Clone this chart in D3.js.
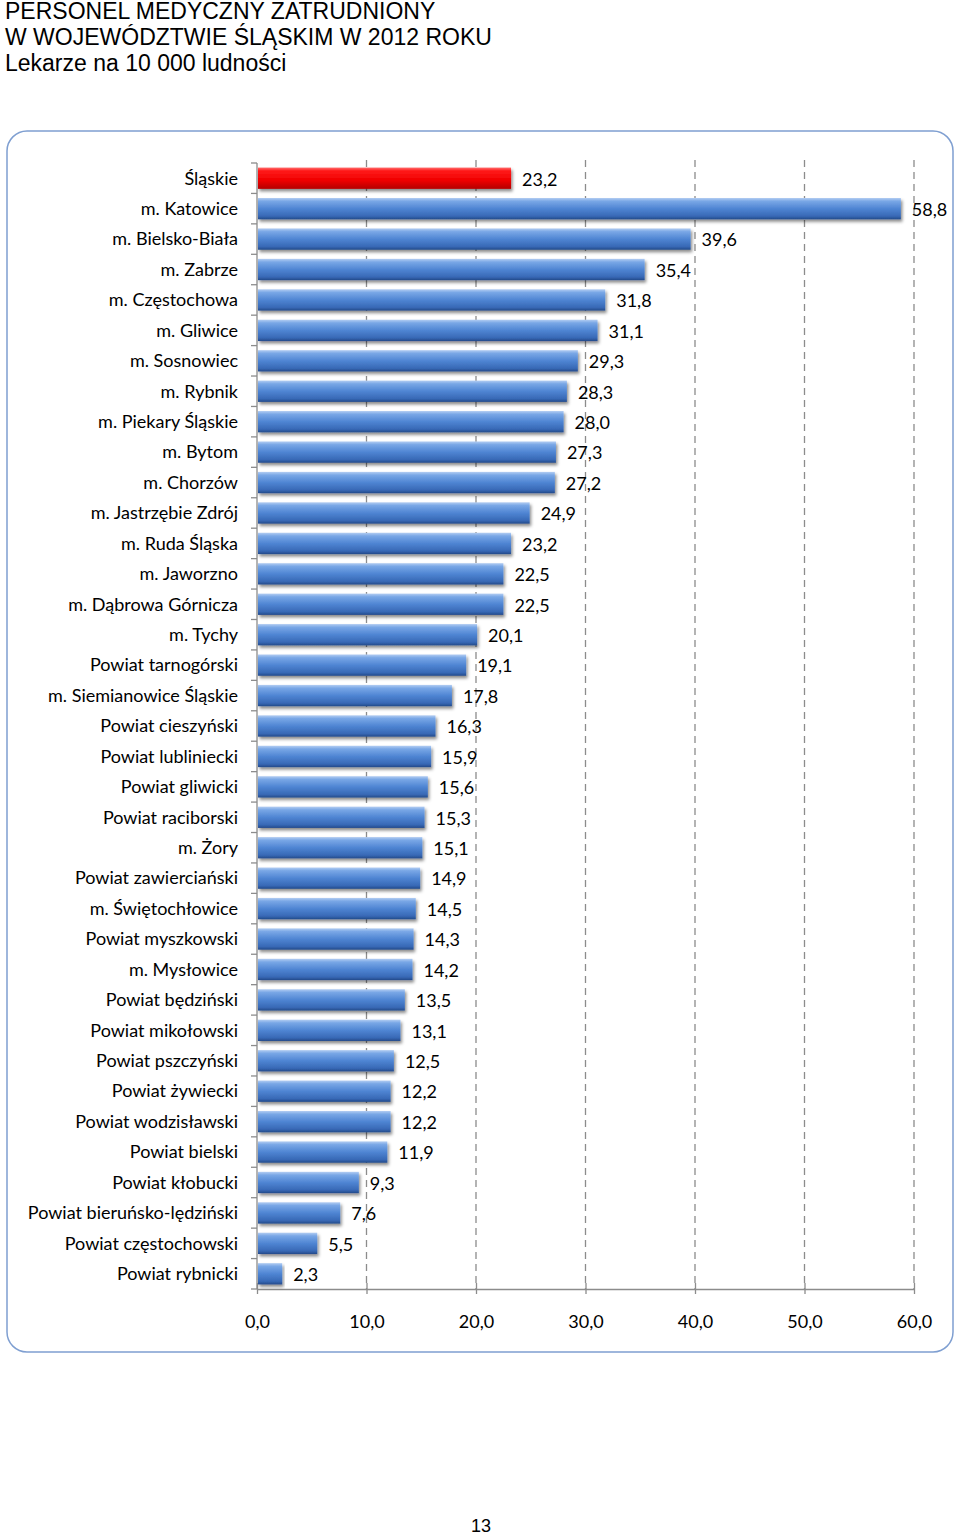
<!DOCTYPE html>
<html>
<head>
<meta charset="utf-8">
<script src="https://cdn.jsdelivr.net/npm/d3@7"></script>
<style>
  body { margin: 0; background: #fff; }
  svg { display: block; }
</style>
</head>
<body>
<script>
const regions = [
  "Śląskie", "m. Katowice", "m. Bielsko-Biała", "m. Zabrze", "m. Częstochowa",
  "m. Gliwice", "m. Sosnowiec", "m. Rybnik", "m. Piekary Śląskie", "m. Bytom",
  "m. Chorzów", "m. Jastrzębie Zdrój", "m. Ruda Śląska", "m. Jaworzno",
  "m. Dąbrowa Górnicza", "m. Tychy", "Powiat tarnogórski", "m. Siemianowice Śląskie",
  "Powiat cieszyński", "Powiat lubliniecki", "Powiat gliwicki", "Powiat raciborski",
  "m. Żory", "Powiat zawierciański", "m. Świętochłowice", "Powiat myszkowski",
  "m. Mysłowice", "Powiat będziński", "Powiat mikołowski", "Powiat pszczyński",
  "Powiat żywiecki", "Powiat wodzisławski", "Powiat bielski", "Powiat kłobucki",
  "Powiat bieruńsko-lędziński", "Powiat częstochowski", "Powiat rybnicki"
];
const doctors = [
  23.2, 58.8, 39.6, 35.4, 31.8, 31.1, 29.3, 28.3, 28.0, 27.3, 27.2, 24.9, 23.2,
  22.5, 22.5, 20.1, 19.1, 17.8, 16.3, 15.9, 15.6, 15.3, 15.1, 14.9, 14.5, 14.3,
  14.2, 13.5, 13.1, 12.5, 12.2, 12.2, 11.9, 9.3, 7.6, 5.5, 2.3
];
const xTicks = [0, 10, 20, 30, 40, 50, 60];
const titleLines = [
  "PERSONEL MEDYCZNY ZATRUDNIONY",
  "W WOJEWÓDZTWIE ŚLĄSKIM W 2012 ROKU",
  "Lekarze na 10 000 ludności"
];

const data = regions.map((r, i) => ({ name: r, value: doctors[i] }));
const fmt = v => v.toFixed(1).replace(".", ",");

const W = 960, H = 1535;
const svg = d3.select("body").append("svg").attr("width", W).attr("height", H);

// gradients
const defs = svg.append("defs");
function grad(id, stops) {
  const g = defs.append("linearGradient").attr("id", id)
    .attr("x1", 0).attr("y1", 0).attr("x2", 0).attr("y2", 1);
  stops.forEach(s => g.append("stop").attr("offset", s[0]).attr("stop-color", s[1]));
}
grad("blueBar", [[0, "#b3cdf2"], [0.15, "#79a7e6"], [0.5, "#4f85d3"], [0.85, "#3869b6"], [1, "#234a8a"]]);
grad("redBar", [[0, "#ff7070"], [0.15, "#ff1a1a"], [0.6, "#f00000"], [1, "#b40000"]]);
const shadow = defs.append("filter").attr("id", "shadow")
  .attr("x", "-5%").attr("y", "-30%").attr("width", "115%").attr("height", "180%");
shadow.append("feDropShadow").attr("dx", 1.5).attr("dy", 2.5).attr("stdDeviation", 1.5)
  .attr("flood-color", "#000").attr("flood-opacity", 0.45);

// title
svg.append("g").selectAll("text").data(titleLines).join("text")
  .attr("x", 5).attr("y", (d, i) => 19 + i * 26)
  .style("font-family", "'Liberation Sans', Arial, sans-serif")
  .style("font-size", "23px").attr("fill", "#000")
  .text(d => d);

// frame
svg.append("rect").attr("x", 7).attr("y", 131).attr("width", 946).attr("height", 1221)
  .attr("rx", 20).attr("ry", 20).attr("fill", "#fff")
  .attr("stroke", "#7f9fd1").attr("stroke-width", 1.5);

const x = d3.scaleLinear().domain([0, 60]).range([257, 914]);
const y = d3.scaleBand().domain(regions).range([163, 1289]).paddingInner(0.3).paddingOuter(0.15);

// gridlines
svg.append("g").selectAll("line").data(xTicks.slice(1)).join("line")
  .attr("x1", d => x(d)).attr("x2", d => x(d))
  .attr("y1", 160).attr("y2", 1289)
  .attr("stroke", "#8c8c8c").attr("stroke-width", 1.3)
  .attr("stroke-dasharray", "7,5");

// y axis
const yEdges = d3.range(regions.length + 1).map(i => 163 + i * (1289 - 163) / regions.length);
svg.append("line").attr("x1", 257).attr("x2", 257).attr("y1", 163).attr("y2", 1289)
  .attr("stroke", "#8c8c8c").attr("stroke-width", 1.3);
svg.append("g").selectAll("line").data(yEdges).join("line")
  .attr("x1", 251).attr("x2", 257).attr("y1", d => d).attr("y2", d => d)
  .attr("stroke", "#8c8c8c").attr("stroke-width", 1.3);

// x axis
const xAxis = svg.append("g").attr("transform", "translate(0,1289)")
  .call(d3.axisBottom(x).tickValues(xTicks).tickSize(5).tickSizeOuter(0).tickFormat(fmt));
xAxis.select(".domain").attr("stroke", "#8c8c8c").attr("stroke-width", 1.3);
xAxis.selectAll(".tick line").attr("stroke", "#8c8c8c").attr("stroke-width", 1.3).attr("y1", -6);
xAxis.selectAll(".tick text").attr("y", 26)
  .style("font-family", "Lato, 'Open Sans', sans-serif").style("font-size", "18px").attr("fill", "#000");

// bars
svg.append("g").selectAll("rect").data(data).join("rect")
  .attr("x", x(0) + 1).attr("y", d => y(d.name))
  .attr("width", d => x(d.value) - x(0) - 1).attr("height", y.bandwidth())
  .attr("fill", (d, i) => i === 0 ? "url(#redBar)" : "url(#blueBar)")
  .attr("filter", "url(#shadow)");

// category labels
svg.append("g").selectAll("text").data(data).join("text")
  .attr("x", 238).attr("y", d => y(d.name) + y.bandwidth() / 2)
  .attr("dy", "0.35em").attr("text-anchor", "end")
  .style("font-family", "Lato, 'Open Sans', sans-serif").style("font-size", "18px")
  .attr("fill", "#000").text(d => d.name);

// value labels
svg.append("g").selectAll("text").data(data).join("text")
  .attr("x", d => x(d.value) + 11).attr("y", d => y(d.name) + y.bandwidth() / 2 + 1)
  .attr("dy", "0.35em")
  .style("font-family", "Lato, 'Open Sans', sans-serif").style("font-size", "18px")
  .attr("fill", "#000").text(d => fmt(d.value));

// page number
svg.append("text").attr("x", 481).attr("y", 1532).attr("text-anchor", "middle")
  .style("font-family", "'Liberation Sans', Arial, sans-serif").style("font-size", "18px")
  .text("13");
</script>
</body>
</html>
